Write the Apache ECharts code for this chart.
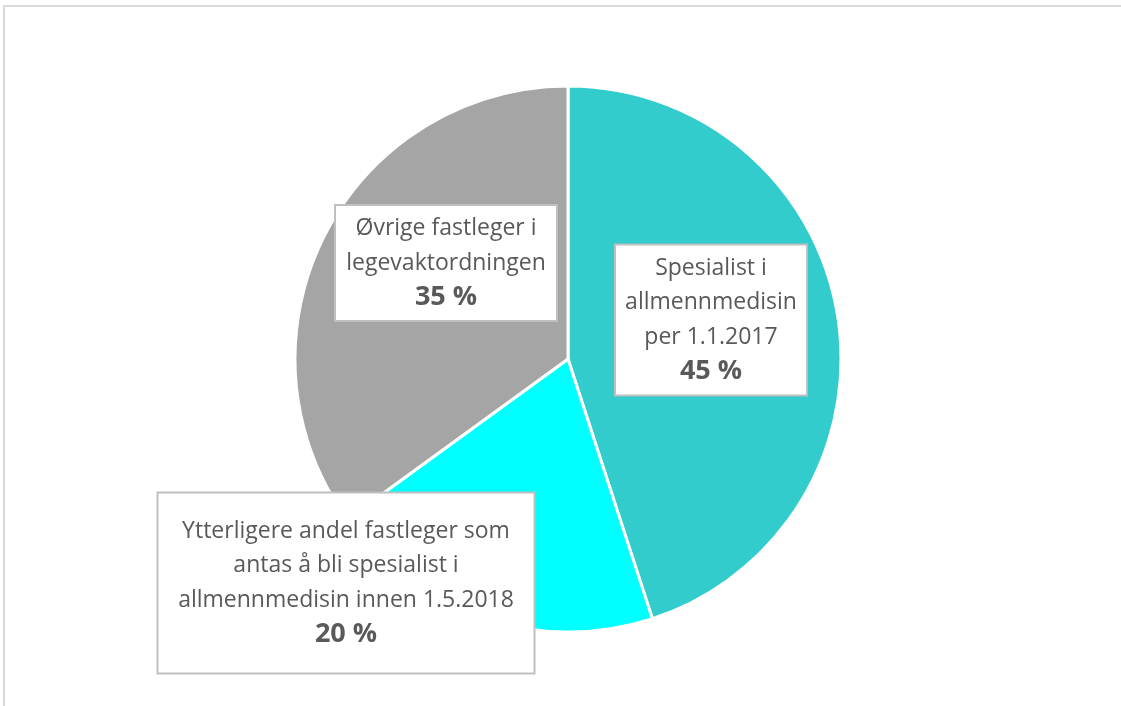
<!DOCTYPE html>
<html>
<head>
<meta charset="utf-8">
<script src="https://cdn.jsdelivr.net/npm/echarts@6/dist/echarts.min.js"></script>
<style>
  html, body { margin: 0; padding: 0; background: #fff; overflow: hidden; }
  #frame {
    position: absolute; left: 3px; top: 5px; width: 1200px; height: 800px;
    border-top: 2px solid #d9d9d9; border-left: 2px solid #d9d9d9;
  }
  #main { position: absolute; left: 0; top: 0; width: 1121px; height: 706px; }
</style>
</head>
<body>
<div id="frame"></div>
<div id="main"></div>
<script>
// data
const categories = [
  "Spesialist i\nallmennmedisin\nper 1.1.2017",
  "Ytterligere andel fastleger som\nantas å bli spesialist i\nallmennmedisin innen 1.5.2018",
  "Øvrige fastleger i\nlegevaktordningen"
];
const values = [45, 20, 35];
const colors = ["#33cccc", "#00ffff", "#a5a5a5"];

// label boxes: centre x, centre y, width, height
const labelBoxes = [
  [711, 320, 194, 153],
  [346, 583, 379, 183],
  [446, 263, 224, 118]
];
const lineH = 34.5;

const chart = echarts.init(document.getElementById("main"));

const option = {
  animation: false,
  series: [{
    type: "pie",
    center: [568, 359],
    radius: 273,
    startAngle: 90,
    clockwise: true,
    itemStyle: { borderColor: "#fff", borderWidth: 3 },
    labelLine: { show: false },
    data: categories.map((c, i) => {
      const b = labelBoxes[i];
      const nLines = c.split("\n").length + 1;
      const pv = (b[3] - nLines * lineH) / 2 - 2;
      return {
        name: c,
        value: values[i],
        itemStyle: { color: colors[i] },
        label: { width: b[2] - 4, padding: [pv, 0, pv, 0] }
      };
    }),
    label: {
      show: true,
      position: "inside",
      align: "center",
      verticalAlign: "middle",
      backgroundColor: "#fff",
      borderColor: "#bfbfbf",
      borderWidth: 2,
      formatter: p => p.name.split("\n").map(l => "{t|" + l + "}").join("\n") + "\n{p|" + p.value + " %}",
      rich: {
        t: { fontFamily: "Open Sans", fontSize: 23, color: "#595959", lineHeight: lineH, align: "center" },
        p: { fontFamily: "Open Sans", fontSize: 27, fontWeight: "bold", color: "#595959", lineHeight: lineH, align: "center" }
      }
    },
    labelLayout: params => ({
      x: labelBoxes[params.dataIndex][0],
      y: labelBoxes[params.dataIndex][1],
      align: "center",
      verticalAlign: "middle"
    })
  }]
};

chart.setOption(option);
</script>
</body>
</html>
